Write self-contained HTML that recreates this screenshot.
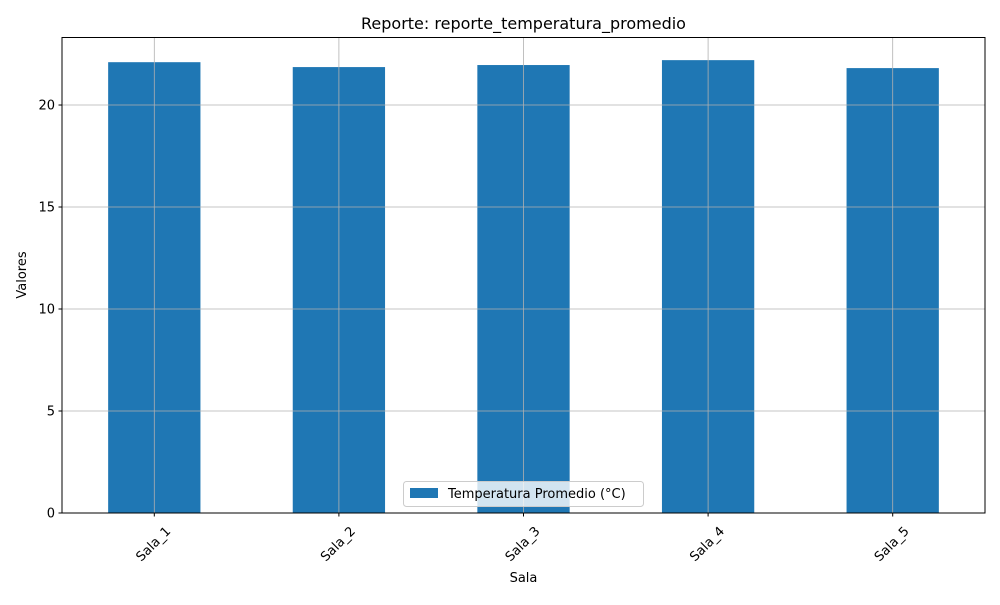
<!DOCTYPE html>
<html><head><meta charset="utf-8"><style>
body{margin:0;background:#fff;font-family:"Liberation Sans","DejaVu Sans",sans-serif;}
</style></head><body>
<svg id="chart" width="1000" height="600" xmlns="http://www.w3.org/2000/svg" font-family="DejaVu Sans, Liberation Sans, sans-serif">
<rect width="1000" height="600" fill="#fff"/>
<g id="bars"></g>
<g id="grid"></g>
<rect x="62" y="37.5" width="923" height="475.5" fill="none" stroke="#000" stroke-width="1"/>
<g id="ticks"></g>
<text x="523.5" y="29" text-anchor="middle" font-size="16">Reporte: reporte_temperatura_promedio</text>
<text x="523.5" y="582" text-anchor="middle" font-size="13">Sala</text>
<text transform="translate(26,275) rotate(-90)" text-anchor="middle" font-size="13">Valores</text>
<g>
<rect x="403.5" y="481.5" width="240" height="25" rx="3" fill="#fff" fill-opacity="0.8" stroke="#ccc"/>
<rect x="410" y="488" width="28" height="10" fill="#1f77b4"/>
<text x="448" y="498" font-size="13">Temperatura Promedio (°C)</text>
</g>
</svg>
<script>
const categories=["Sala_1","Sala_2","Sala_3","Sala_4","Sala_5"];
const values=[22.1,21.86,21.96,22.2,21.81];
const yTicks=[0,5,10,15,20];
const L=62,R=985,T=37.5,B=513,yMax=23.31;
const NS="http://www.w3.org/2000/svg";
const step=(R-L)/categories.length;
const x=i=>L+step*(i+0.5);
const y=v=>B-(B-T)*v/yMax;
function mk(tag,attrs,parent){const e=document.createElementNS(NS,tag);for(const k in attrs)e.setAttribute(k,attrs[k]);parent.appendChild(e);return e;}
const bars=document.getElementById('bars'),grid=document.getElementById('grid'),ticks=document.getElementById('ticks');
categories.forEach((c,i)=>{
 const r=mk('rect',{x:x(i)-step*0.25,y:y(values[i]),width:step*0.5,height:B-y(values[i]),fill:'#1f77b4'},bars);
 
 
 const g=mk('line',{x1:x(i),x2:x(i),y1:T,y2:B,stroke:'#b0b0b0','stroke-width':0.8},grid);
 
 
 mk('line',{x1:x(i),x2:x(i),y1:B,y2:B+3.5,stroke:'#000'},ticks);
 const t=mk('text',{transform:`translate(${x(i)+2},${B+34}) rotate(-45)`,'text-anchor':'middle','font-size':13},ticks);
 t.textContent=c;
 
 
});
yTicks.forEach(v=>{
 const g=mk('line',{x1:L,x2:R,y1:y(v),y2:y(v),stroke:'#b0b0b0','stroke-width':0.8},grid);
 
 
 mk('line',{x1:L-3.5,x2:L,y1:y(v),y2:y(v),stroke:'#000'},ticks);
 const t=mk('text',{x:L-7,y:y(v)+4.5,'text-anchor':'end','font-size':13},ticks);
 t.textContent=v;
 
 
});
</script>
</body></html>
